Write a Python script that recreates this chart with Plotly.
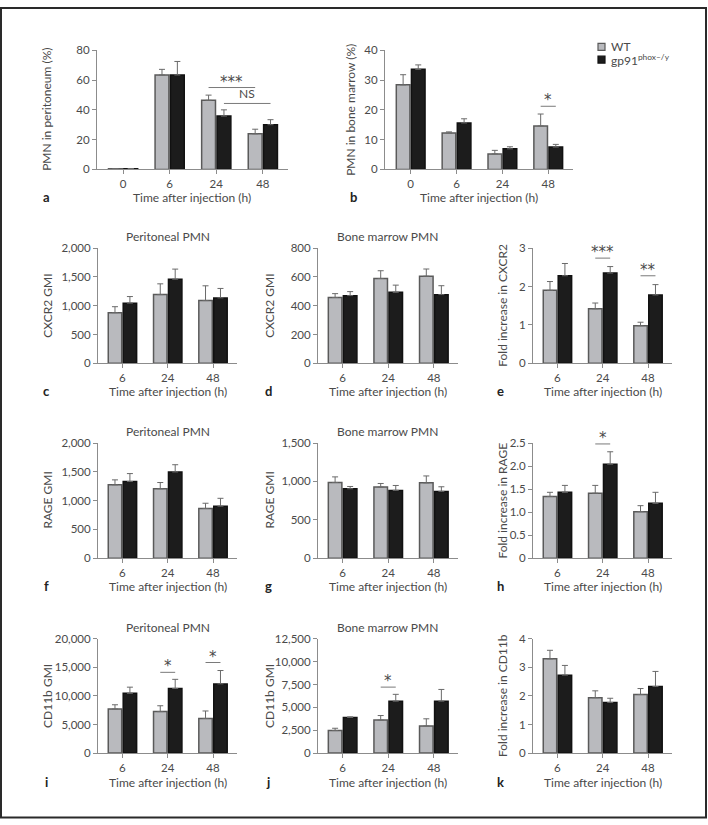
import plotly.graph_objects as go

W, H = 708, 825

cats4 = ["0", "6", "24", "48"]
cats3 = ["6", "24", "48"]

# ---- data (mean, SEM upward) ----
a_wt = [0.4, 63.4, 46.4, 23.9]; a_wt_err = [0.2, 3.8, 3.5, 3.1]
a_ko = [0.4, 63.4, 35.8, 30.0]; a_ko_err = [0.2, 9.1, 4.2, 3.4]

b_wt = [28.4, 12.2, 5.2, 14.6]; b_wt_err = [3.4, 0.4, 1.2, 4.0]
b_ko = [33.6, 15.6, 6.9, 7.5]; b_ko_err = [1.5, 1.4, 0.7, 0.9]

c_wt = [880, 1193, 1090]; c_wt_err = [103, 187, 256]
c_ko = [1045, 1460, 1136]; c_ko_err = [114, 176, 164]

d_wt = [457, 589, 605]; d_wt_err = [27, 54, 50]
d_ko = [470, 493, 477]; d_ko_err = [28, 50, 62]

e_wt = [1.90, 1.42, 0.98]; e_wt_err = [0.23, 0.15, 0.09]
e_ko = [2.28, 2.35, 1.78]; e_ko_err = [0.32, 0.17, 0.27]

f_wt = [1274, 1206, 863]; f_wt_err = [86, 108, 91]
f_ko = [1331, 1497, 903]; f_ko_err = [138, 126, 137]

g_wt = [986, 926, 981]; g_wt_err = [73, 47, 90]
g_ko = [904, 883, 870]; g_ko_err = [30, 64, 60]

h_wt = [1.34, 1.41, 1.01]; h_wt_err = [0.09, 0.17, 0.13]
h_ko = [1.43, 2.04, 1.19]; h_ko_err = [0.15, 0.27, 0.24]

i_wt = [7714, 7257, 6057]; i_wt_err = [743, 1029, 1314]
i_ko = [10457, 11314, 12114]; i_ko_err = [1086, 1600, 2343]

j_wt = [2464, 3607, 2964]; j_wt_err = [250, 500, 786]
j_ko = [3893, 5679, 5679]; j_ko_err = [71, 749, 1285]

k_wt = [3.30, 1.94, 2.05]; k_wt_err = [0.30, 0.24, 0.21]
k_ko = [2.73, 1.77, 2.33]; k_ko_err = [0.34, 0.15, 0.53]

series_names = ["WT", "gp91<sup>phox–/y</sup>"]

# tick values / labels
t_a = [0, 20, 40, 60, 80]; tl_a = ["0", "20", "40", "60", "80"]
t_b = [0, 10, 20, 30, 40]; tl_b = ["0", "10", "20", "30", "40"]
t_2000 = [0, 500, 1000, 1500, 2000]; tl_2000 = ["0", "500", "1,000", "1,500", "2,000"]
t_800 = [0, 200, 400, 600, 800]; tl_800 = ["0", "200", "400", "600", "800"]
t_3 = [0, 1, 2, 3]; tl_3 = ["0", "1", "2", "3"]
t_1500 = [0, 500, 1000, 1500]; tl_1500 = ["0", "500", "1,000", "1,500"]
t_25 = [0, 0.5, 1.0, 1.5, 2.0, 2.5]; tl_25 = ["0", "0.5", "1.0", "1.5", "2.0", "2.5"]
t_20k = [0, 5000, 10000, 15000, 20000]; tl_20k = ["0", "5,000", "10,000", "15,000", "20,000"]
t_12k = [0, 2500, 5000, 7500, 10000, 12500]; tl_12k = ["0", "2,500", "5,000", "7,500", "10,000", "12,500"]
t_4 = [0, 1, 2, 3, 4]; tl_4 = ["0", "1", "2", "3", "4"]

XT = "Time after injection (h)"

# significance: (cat_from, series_from, cat_to, series_to, y_value, text)
panels = [
    dict(k="a", cats=cats4, wt=a_wt, we=a_wt_err, ko=a_ko, ke=a_ko_err, tv=t_a, tt=tl_a, top=80,
         px=(97, 288), py=(44, 165), yt="PMN in peritoneum (%)", ytx=47, title=None, lab=(46, 193),
         sig=[(2, 0, 3, 0, 55, "***"), (2, 1, 3, 1, 44.3, "NS")]),
    dict(k="b", cats=cats4, wt=b_wt, we=b_wt_err, ko=b_ko, ke=b_ko_err, tv=t_b, tt=tl_b, top=40,
         px=(385, 573), py=(44, 165), yt="PMN in bone marrow (%)", ytx=351, title=None, lab=(353, 193),
         sig=[(3, 0, 3, 1, 21.2, "*")]),
    dict(k="c", cats=cats3, wt=c_wt, we=c_wt_err, ko=c_ko, ke=c_ko_err, tv=t_2000, tt=tl_2000, top=2000,
         px=(98, 237), py=(245, 362), yt="CXCR2 GMI", ytx=48, title="Peritoneal PMN", lab=(46, 390), sig=[]),
    dict(k="d", cats=cats3, wt=d_wt, we=d_wt_err, ko=d_ko, ke=d_ko_err, tv=t_800, tt=tl_800, top=800,
         px=(318, 458), py=(245, 362), yt="CXCR2 GMI", ytx=270, title="Bone marrow PMN", lab=(268, 390), sig=[]),
    dict(k="e", cats=cats3, wt=e_wt, we=e_wt_err, ko=e_ko, ke=e_ko_err, tv=t_3, tt=tl_3, top=3,
         px=(533, 672), py=(245, 362), yt="Fold increase in CXCR2", ytx=503, title=None, lab=(500, 390),
         sig=[(1, 0, 1, 1, 2.74, "***"), (2, 0, 2, 1, 2.28, "**")]),
    dict(k="f", cats=cats3, wt=f_wt, we=f_wt_err, ko=f_ko, ke=f_ko_err, tv=t_2000, tt=tl_2000, top=2000,
         px=(98, 237), py=(443, 560), yt="RAGE GMI", ytx=48, title="Peritoneal PMN", lab=(46, 588), sig=[]),
    dict(k="g", cats=cats3, wt=g_wt, we=g_wt_err, ko=g_ko, ke=g_ko_err, tv=t_1500, tt=tl_1500, top=1500,
         px=(318, 458), py=(443, 560), yt="RAGE GMI", ytx=270, title="Bone marrow PMN", lab=(268, 588), sig=[]),
    dict(k="h", cats=cats3, wt=h_wt, we=h_wt_err, ko=h_ko, ke=h_ko_err, tv=t_25, tt=tl_25, top=2.5,
         px=(533, 672), py=(443, 560), yt="Fold increase in RAGE", ytx=503, title=None, lab=(500, 588),
         sig=[(1, 0, 1, 1, 2.48, "*")]),
    dict(k="i", cats=cats3, wt=i_wt, we=i_wt_err, ko=i_ko, ke=i_ko_err, tv=t_20k, tt=tl_20k, top=20000,
         px=(98, 237), py=(642, 758), yt="CD11b GMI", ytx=48, title="Peritoneal PMN", lab=(46, 787),
         sig=[(1, 0, 1, 1, 14138, "*"), (2, 0, 2, 1, 15862, "*")]),
    dict(k="j", cats=cats3, wt=j_wt, we=j_wt_err, ko=j_ko, ke=j_ko_err, tv=t_12k, tt=tl_12k, top=12500,
         px=(318, 458), py=(642, 758), yt="CD11b GMI", ytx=270, title="Bone marrow PMN", lab=(268, 787),
         sig=[(1, 0, 1, 1, 7220, "*")]),
    dict(k="k", cats=cats3, wt=k_wt, we=k_wt_err, ko=k_ko, ke=k_ko_err, tv=t_4, tt=tl_4, top=4,
         px=(533, 672), py=(642, 758), yt="Fold increase in CD11b", ytx=503, title=None, lab=(500, 787), sig=[]),
]

FONT = "Lato, Liberation Sans, sans-serif"
STAR_FONT = "DejaVu Sans"
FS = 11.5
TXT = "#4a4a4a"
AX = "#8c8c8c"
WT_FILL, WT_LINE = "#b9babe", "#5a5a5a"
KO_FILL, KO_LINE = "#1c1c1c", "#111111"
BARGAP = 0.34
OFF = (1 - BARGAP) / 4

fig = go.Figure()
layout = dict(
    width=W, height=H, margin=dict(l=0, r=0, t=0, b=0),
    paper_bgcolor="white", plot_bgcolor="white",
    barmode="group", bargap=BARGAP, bargroupgap=0.1,
    font=dict(family=FONT, size=FS, color=TXT),
    showlegend=False,
)
annotations = []
shapes = []

for n, p in enumerate(panels):
    ax = "" if n == 0 else str(n + 1)
    xa, ya = "x" + ax, "y" + ax
    ncat = len(p["cats"])
    fig.add_trace(go.Bar(
        x=p["cats"], y=p["wt"], name=series_names[0],
        marker=dict(color=WT_FILL, line=dict(color=WT_LINE, width=1.5)),
        error_y=dict(type="data", array=p["we"], arrayminus=[0] * ncat, symmetric=False,
                     color="#6a6a6a", thickness=1, width=3),
        xaxis=xa, yaxis=ya))
    fig.add_trace(go.Bar(
        x=p["cats"], y=p["ko"], name=series_names[1],
        marker=dict(color=KO_FILL, line=dict(color=KO_LINE, width=1.5)),
        error_y=dict(type="data", array=p["ke"], arrayminus=[0] * ncat, symmetric=False,
                     color="#6a6a6a", thickness=1, width=3),
        xaxis=xa, yaxis=ya))

    x0, x1 = p["px"]
    ytop, ybot = p["py"]
    xr = [-0.56, 3.54] if ncat == 4 else [-0.54, 2.53]
    layout["xaxis" + ax] = dict(
        domain=[x0 / W, x1 / W], anchor=ya, type="category", range=xr,
        showline=True, linecolor=AX, linewidth=1, ticks="outside", ticklen=4, tickcolor=AX,
        showgrid=False, zeroline=False, tickfont=dict(size=FS, color=TXT), fixedrange=True)
    layout["yaxis" + ax] = dict(
        domain=[1 - ybot / H, 1 - ytop / H], anchor=xa, range=[0, p["top"]],
        tickvals=p["tv"], ticktext=p["tt"],
        showline=True, linecolor=AX, linewidth=1, ticks="outside", ticklen=4, tickcolor=AX,
        showgrid=False, zeroline=False, tickfont=dict(size=FS, color=TXT), fixedrange=True)

    annotations.append(dict(text=XT, xref="paper", yref="paper", x=(x0 + x1) / 2 / W,
                            y=1 - (p["lab"][1] + 1) / H, showarrow=False, xanchor="center", yanchor="middle",
                            font=dict(size=FS + 0.5, color=TXT)))
    annotations.append(dict(text=p["yt"], xref="paper", yref="paper", x=p["ytx"] / W,
                            y=1 - (ytop + ybot) / 2 / H, showarrow=False, textangle=-90,
                            xanchor="center", yanchor="middle", font=dict(size=FS + 0.5, color=TXT)))
    if p["title"]:
        annotations.append(dict(text=p["title"], xref="paper", yref="paper", x=(x0 + x1) / 2 / W,
                                y=1 - (ytop - 12) / H, showarrow=False, xanchor="center", yanchor="middle",
                                font=dict(size=FS + 0.5, color=TXT)))
    annotations.append(dict(text="<b>" + p["k"] + "</b>", xref="paper", yref="paper",
                            x=p["lab"][0] / W, y=1 - p["lab"][1] / H, showarrow=False,
                            xanchor="center", yanchor="middle", font=dict(size=13, color="#222")))
    for (c0, s0, c1, s1, yv, txt) in p["sig"]:
        xs0 = c0 + (OFF if s0 else -OFF)
        xs1 = c1 + (OFF if s1 else -OFF)
        shapes.append(dict(type="line", xref=xa, yref=ya, x0=xs0, x1=xs1, y0=yv, y1=yv,
                           line=dict(color="#7a7a7a", width=1)))
        if txt == "NS":
            annotations.append(dict(text=txt, xref=xa, yref=ya, x=(xs0 + xs1) / 2, y=yv,
                                    showarrow=False, xanchor="center", yanchor="bottom",
                                    font=dict(size=FS + 0.5, color=TXT)))
        else:
            annotations.append(dict(text=txt, xref=xa, yref=ya, x=(xs0 + xs1) / 2, y=yv,
                                    showarrow=False, xanchor="center", yanchor="bottom",
                                    yshift=-5,
                                    font=dict(family=STAR_FONT, size=15, color=TXT)))

# compact legend (swatch + label), top right as in the reference
leg_fill = [WT_FILL, KO_FILL]
leg_line = [WT_LINE, KO_LINE]
leg_y = [40.5, 53.5]
for s in range(2):
    shapes.append(dict(type="rect", xref="paper", yref="paper",
                       x0=598 / W, x1=605 / W, y0=1 - (leg_y[s] + 3.5) / H, y1=1 - (leg_y[s] - 3.5) / H,
                       fillcolor=leg_fill[s], line=dict(color=leg_line[s], width=1.2)))
    annotations.append(dict(text=series_names[s], xref="paper", yref="paper", x=609 / W,
                            y=1 - leg_y[s] / H, showarrow=False, xanchor="left", yanchor="middle",
                            font=dict(size=12, color=TXT)))

# frame around the figure
shapes.append(dict(type="rect", xref="paper", yref="paper", x0=1 / W, x1=706 / W,
                   y0=1 - 823.5 / H, y1=1 - 1 / H, line=dict(color="#2a2a2a", width=2)))

layout["annotations"] = annotations
layout["shapes"] = shapes
fig.update_layout(**layout)
fig.write_html("out.html", config={"displayModeBar": False},
               post_script="document.body.style.margin='0';document.body.style.padding='0';")
